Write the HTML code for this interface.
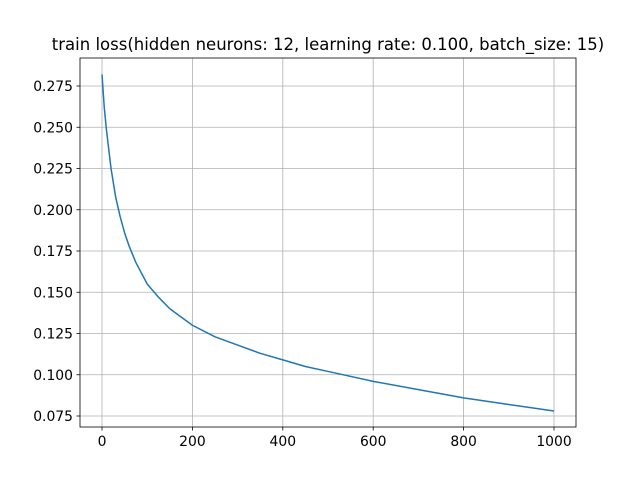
<!DOCTYPE html>
<html><head><meta charset="utf-8"><style>
body{margin:0;background:#fff}
svg text{font-family:"DejaVu Sans","Liberation Sans",sans-serif;fill:#000}
</style></head><body>
<svg width="640" height="480" id="c">
<rect x="0" y="0" width="640" height="480" fill="#fff"/>
<g id="grid"></g>
<g id="ticks"></g>
<path id="line" fill="none" stroke="#1f77b4" stroke-width="1.5" stroke-linejoin="round"/>
<rect x="80" y="58" width="496" height="369" fill="none" stroke="#000" stroke-width="0.8"/>
<text x="328" y="50" font-size="16.5" text-anchor="middle">train loss(hidden neurons: 12, learning rate: 0.100, batch_size: 15)</text>
</svg>
<script>
const epochs=[0,5,10,20,30,40,50,60,75,100,125,150,175,200,250,300,350,400,450,500,600,700,800,900,1000];
const losses=[0.282,0.262,0.248,0.225,0.208,0.196,0.186,0.178,0.168,0.155,0.147,0.140,0.135,0.130,0.123,0.118,0.113,0.109,0.105,0.102,0.096,0.091,0.086,0.082,0.078];
const xTicks=[0,200,400,600,800,1000];
const yTicks=[0.075,0.100,0.125,0.150,0.175,0.200,0.225,0.250,0.275];
const xs=v=>102+v*0.452;
const ys=v=>416-(v-0.075)*1650;
const NS='http://www.w3.org/2000/svg';
const grid=document.getElementById('grid'),ticks=document.getElementById('ticks');
function mk(p,tag,a){const e=document.createElementNS(NS,tag);for(const k in a)e.setAttribute(k,a[k]);p.appendChild(e);return e;}
xTicks.forEach(t=>{const x=xs(t);
const g=mk(grid,'line',{x1:x,x2:x,y1:58,y2:427,stroke:'#b0b0b0','stroke-width':0.8});


const k=mk(ticks,'line',{x1:x,x2:x,y1:427,y2:430.5,stroke:'#000','stroke-width':0.8});


const l=mk(ticks,'text',{x:x,y:446,'font-size':13.9,'text-anchor':'middle'});l.textContent=t;

});
yTicks.forEach(t=>{const y=ys(t);
const g=mk(grid,'line',{x1:80,x2:576,y1:y,y2:y,stroke:'#b0b0b0','stroke-width':0.8});


const k=mk(ticks,'line',{x1:76.5,x2:80,y1:y,y2:y,stroke:'#000','stroke-width':0.8});


const l=mk(ticks,'text',{x:73,y:y+5,'font-size':13.9,'text-anchor':'end'});l.textContent=t.toFixed(3);

});
document.getElementById('line').setAttribute('d',epochs.map((e,i)=>(i?'L':'M')+xs(e).toFixed(2)+','+ys(losses[i]).toFixed(2)).join(''));
</script>
</body></html>
